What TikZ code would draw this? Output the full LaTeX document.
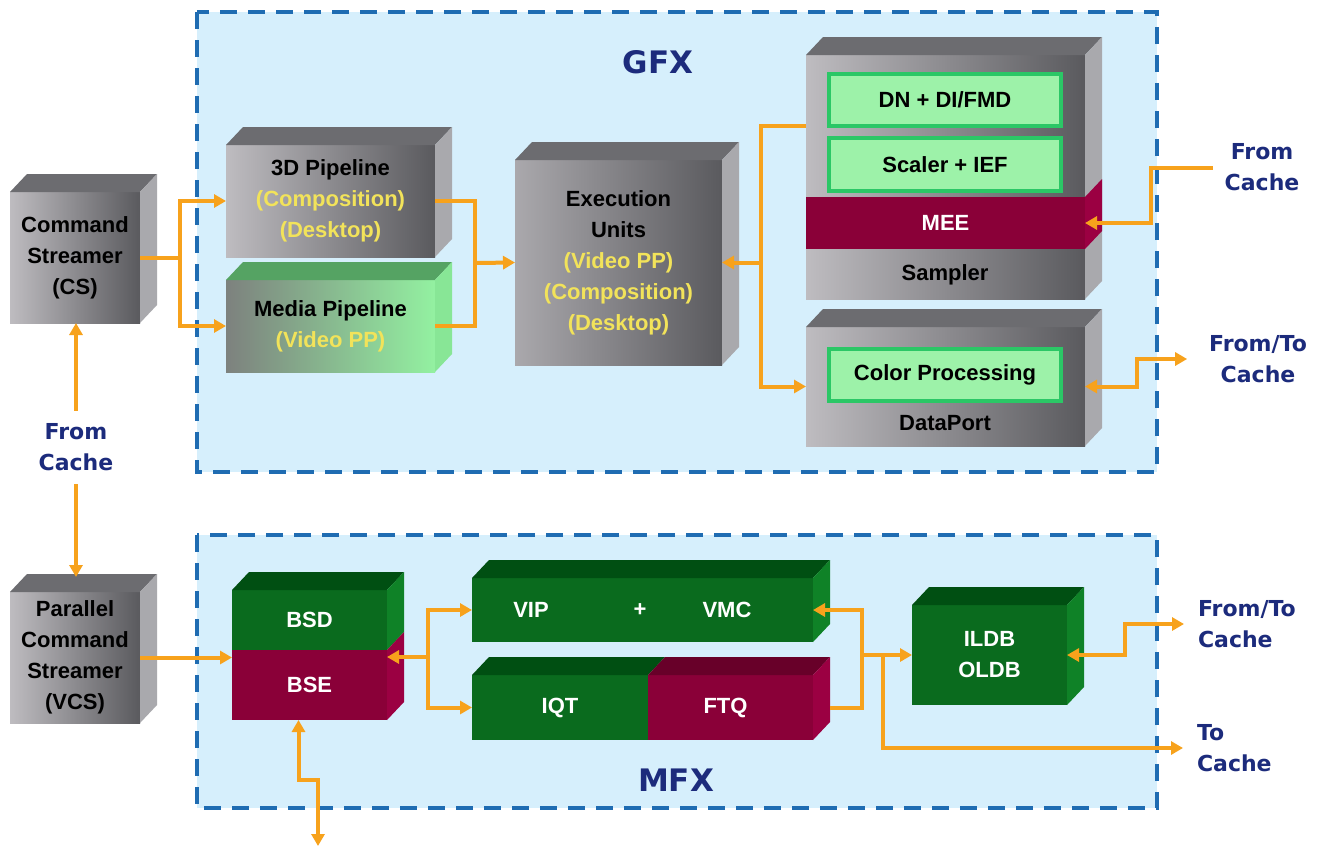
\documentclass[tikz,border=0pt]{standalone}
\usepackage{fontspec}
\setmainfont{Liberation Sans}
\newfontfamily\lblfont{DejaVu Sans}
\usetikzlibrary{arrows.meta}
\definecolor{orng}{HTML}{F7A21C}
\definecolor{bluefill}{HTML}{D6EFFC}
\definecolor{dashblue}{HTML}{1F6CB2}
\definecolor{navy}{HTML}{1C2B7C}
\definecolor{yel}{HTML}{F2E35A}
\definecolor{gfl}{HTML}{BEBCC0}
\definecolor{gfr}{HTML}{5A5A5E}
\definecolor{gtopc}{HTML}{6C6C70}
\definecolor{gsidec}{HTML}{A9A9AD}
\definecolor{mpl}{HTML}{7D817E}
\definecolor{mpr}{HTML}{93F1A1}
\definecolor{mtopg}{HTML}{55A363}
\definecolor{msideg}{HTML}{88E696}
\definecolor{gfront}{HTML}{0A6B1E}
\definecolor{gtop}{HTML}{004F12}
\definecolor{gside}{HTML}{0F8227}
\definecolor{mfront}{HTML}{8A0038}
\definecolor{mtop}{HTML}{680029}
\definecolor{mside}{HTML}{9B0042}
\definecolor{ifill}{HTML}{9DF2A9}
\definecolor{ibord}{HTML}{2BC766}
\newcommand\boxtxt{\fontsize{22}{31}\selectfont\bfseries}
\newcommand\lbltxt{\lblfont\fontsize{22}{31}\selectfont\bfseries}
\newcommand\cubetop[2]{\fill[#2] (#1.north west) -- ++(17,-18) -- ([shift={(17,-18)}]#1.north east) -- (#1.north east) -- cycle;}
\newcommand\cubeside[2]{\fill[#2] (#1.north east) -- ++(17,-18) -- ([shift={(17,-18)}]#1.south east) -- (#1.south east) -- cycle;}
\newcommand\yl[1]{\textcolor{yel}{#1}}
\begin{document}
\begin{tikzpicture}[x=1pt,y=-1pt,
  front/.style={rectangle, inner sep=0pt, outer sep=0pt, align=center, font=\boxtxt},
  graycube/.style={front, left color=gfl, right color=gfr, text=black},
  greencube/.style={front, fill=gfront, text=white},
  marooncube/.style={front, fill=mfront, text=white},
  innerbox/.style={rectangle, draw=ibord, line width=4pt, fill=ifill, inner sep=0pt, font=\boxtxt, text=black},
  txt/.style={inner sep=0pt, font=\boxtxt},
  region/.style={draw=dashblue, fill=bluefill, line width=3.5pt, dash pattern=on 17pt off 11pt},
  title/.style={inner sep=0pt, text=navy, font={\lblfont\fontsize{31}{36}\selectfont\bfseries}},
  cachelbl/.style={inner sep=0pt, text=navy, font=\lbltxt},
  ln/.style={draw=orng, line width=4pt},
  arr/.style={ln, -{Triangle[length=12pt,width=13pt]}},
  darr/.style={ln, {Triangle[length=12pt,width=13pt]}-{Triangle[length=12pt,width=13pt]}}
]
\useasboundingbox (0,0) rectangle (1327,847);
\fill[white] (0,0) rectangle (1327,847);

% regions
\draw[region] (197,12) rectangle (1157,472);
\draw[region] (197,535) rectangle (1157,808);
\node[title] (gfx) at (658,62) {GFX};
\node[title] (mfx) at (676,780) {MFX};

% Command streamers
\node[graycube, minimum width=130pt, minimum height=131pt] (cs) at (75,257.5) {Command\\Streamer\\(CS)};
\cubetop{cs}{gtopc}\cubeside{cs}{gsidec}
\node[graycube, minimum width=130pt, minimum height=131pt] (pcs) at (75,657.5) {Parallel\\Command\\Streamer\\(VCS)};
\cubetop{pcs}{gtopc}\cubeside{pcs}{gsidec}

% 3D pipeline, media pipeline
\node[graycube, minimum width=209pt, minimum height=112pt] (p3d) at (330.5,201) {3D Pipeline\\\yl{(Composition)}\\\yl{(Desktop)}};
\cubetop{p3d}{gtopc}\cubeside{p3d}{gsidec}
\node[front, left color=mpl, right color=mpr, text=black, minimum width=209pt, minimum height=92pt] (media) at (330.5,326) {Media Pipeline\\\yl{(Video PP)}};
\cubetop{media}{mtopg}\cubeside{media}{msideg}

% execution units
\node[graycube, left color=gfl!80!gfr, minimum width=207pt, minimum height=205pt] (eu) at (618.5,262.5) {Execution\\Units\\\yl{(Video PP)}\\\yl{(Composition)}\\\yl{(Desktop)}};
\cubetop{eu}{gtopc}\cubeside{eu}{gsidec}

% sampler
\node[graycube, minimum width=279pt, minimum height=244pt] (sampler) at (945.5,177) {};
\cubetop{sampler}{gtopc}\cubeside{sampler}{gsidec}
\node[innerbox, minimum width=232pt, minimum height=52pt] (dn) at (945,100) {DN + DI/FMD};
\node[innerbox, minimum width=232pt, minimum height=53pt] (scaler) at (945,164.5) {Scaler + IEF};
\node[marooncube, minimum width=279pt, minimum height=52pt] (mee) at (945.5,223) {MEE};
\cubeside{mee}{mside}
\node[txt] (samplerlbl) at (945,275) {Sampler};

% dataport
\node[graycube, minimum width=279pt, minimum height=119pt] (dataport) at (945.5,386.5) {};
\cubetop{dataport}{gtopc}\cubeside{dataport}{gsidec}
\node[innerbox, minimum width=232pt, minimum height=52pt] (cp) at (945,375) {Color Processing};
\node[txt] (dplbl) at (945,423) {DataPort};

% MFX blocks
\node[greencube, minimum width=155pt, minimum height=60pt] (bsd) at (309.5,620) {BSD};
\node[marooncube, minimum width=155pt, minimum height=70pt] (bse) at (309.5,685) {BSE};
\cubetop{bsd}{gtop}\cubeside{bsd}{gside}\cubeside{bse}{mside}

\node[greencube, minimum width=341pt, minimum height=64pt] (vv) at (642.5,610) {};
\cubetop{vv}{gtop}\cubeside{vv}{gside}
\node[txt, text=white] (vip) at (531,610) {VIP};
\node[txt, text=white] (plus) at (640,610) {+};
\node[txt, text=white] (vmc) at (727,610) {VMC};

\node[greencube, minimum width=176pt, minimum height=65pt] (iqt) at (560,707.5) {IQT};
\node[marooncube, minimum width=165pt, minimum height=65pt] (ftq) at (730.5,707.5) {\hspace*{-10pt}FTQ};
\cubetop{iqt}{gtop}\cubetop{ftq}{mtop}\cubeside{ftq}{mside}

\node[greencube, minimum width=155pt, minimum height=100pt] (ildb) at (989.5,655) {ILDB\\OLDB};
\cubetop{ildb}{gtop}\cubeside{ildb}{gside}

% cache labels
\node[cachelbl, align=center, outer xsep=12pt] (fc1) at (1262,167.5) {From\\Cache};
\node[cachelbl, align=center, outer xsep=22pt] (fc2) at (1258,359) {From/To\\Cache};
\node[cachelbl, align=center, outer ysep=13pt] (fc3) at (76,447.5) {From\\Cache};
\node[cachelbl, align=left, anchor=west, outer xsep=14pt] (fc4) at (1184,624) {From/To\\Cache};
\node[cachelbl, align=left, anchor=west, outer xsep=14pt] (tc) at (1183,748) {To\\Cache};

% connectors GFX
\draw[arr] (cs.east) -- ++(40,0) |- (p3d.west);
\draw[arr] (cs.east) -- ++(40,0) |- (media.west);
\coordinate (j2) at (475,263);
\draw[ln] (p3d.east) -| (j2) |- (media.east);
\draw[arr] (j2) -- (eu.west);
\path (eu.east) ++(39,0) coordinate (j3);
\draw[arr] ([shift={(0,71)}]sampler.north west) -| (j3) |- (dataport.west);
\draw[arr] (j3) -- (eu.east);
\draw[arr] (fc1.west) -- ++(-62,0) |- (mee.east);
\draw[darr] (dataport.east) -- ++(52,0) |- (fc2.west);
\draw[arr] (fc3.north) -- (fc3.north |- cs.south);
\draw[arr] (fc3.south) -- ([yshift=15pt]fc3.south |- pcs.north);

% connectors MFX
\draw[arr] (pcs.east) -- (pcs.east -| bse.west);
\coordinate (j4) at (428,657);
\draw[arr] (j4) -- (j4 -| bse.east);
\draw[arr] (j4) |- (vv.west);
\draw[arr] (j4) |- (iqt.west);
\coordinate (bot) at (318,846);
\draw[darr] ([xshift=-11pt]bse.south) -- ++(0,60) -| (bot);
\coordinate (j5) at (862,655);
\draw[ln] ([xshift=17pt]ftq.east) -| (j5);
\draw[arr] (j5) |- (vv.east);
\draw[arr] (j5) -- (ildb.west);
\coordinate (j6) at (883,655);
\draw[arr] (j6) |- (tc.west);
\draw[darr] (ildb.east) -- ++(58,0) |- (fc4.west);
\end{tikzpicture}
\end{document}
